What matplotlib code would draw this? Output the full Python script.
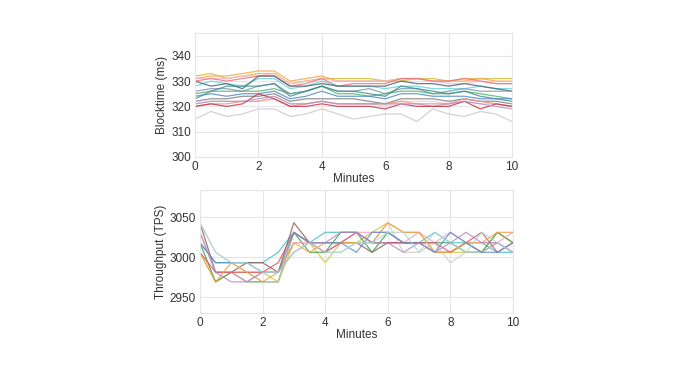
import matplotlib
matplotlib.use("Agg")
import matplotlib.pyplot as plt

plt.rcParams['font.family'] = ['Liberation Sans', 'DejaVu Sans']

minutes = [i * 0.5 for i in range(21)]

# Blocktime series (ms)
bt_colors = ['#d4b830', '#f2a24a', '#f5b6c8', '#e8707a', '#5fd0dc', '#4a5a66',
             '#7a94b0', '#4caf6a', '#3a8a8a', '#4a88c6', '#7a7a7a', '#f4c4d0',
             '#f09080', '#c23040', '#b090c8', '#c8c8c8']
bt_series = [
    [332,333,331,332,333,333,329,330,331,331,331,331,330,330,331,331,330,331,331,331,331],
    [331,332,332,333,334,334,330,331,332,330,330,330,330,331,331,330,330,330,331,330,330],
    [331,331,331,332,332,333,329,330,331,330,330,330,330,331,331,330,329,329,330,329,329],
    [330,331,330,331,332,332,328,329,331,328,329,329,329,331,331,330,330,331,330,329,329],
    [328,330,329,328,331,331,327,328,330,328,328,328,327,328,328,327,327,327,328,327,327],
    [330,328,329,327,332,332,328,328,329,328,328,328,328,330,329,329,328,329,328,327,326],
    [326,327,327,326,328,329,325,326,328,326,326,327,325,327,327,325,326,327,326,326,326],
    [325,326,326,326,326,327,325,326,328,325,325,324,325,326,326,325,325,326,325,324,323],
    [323,326,328,328,328,329,324,326,328,326,326,325,324,328,327,326,325,326,324,323,322],
    [324,325,324,325,325,326,323,324,326,324,324,324,323,325,325,324,324,324,323,323,323],
    [322,323,323,324,324,325,322,323,323,323,323,322,321,323,323,323,322,323,322,322,321],
    [321,322,322,322,322,324,321,321,322,321,321,321,320,322,322,322,321,322,321,321,320],
    [320,321,321,322,322,323,320,321,322,321,321,321,321,322,321,320,321,323,322,321,320],
    [320,321,320,321,325,323,320,320,321,320,320,320,319,321,320,320,320,322,319,321,320],
    [321,322,322,322,323,324,321,321,322,321,321,321,321,321,321,321,321,322,321,320,319],
    [315,318,316,317,319,319,316,317,319,317,315,316,317,317,314,319,317,316,318,317,314],
]

# Throughput series (TPS)
tp_colors = ['#3fbfc8', '#8a5a4a', '#d8c040', '#3a9a4a', '#cccccc', '#f0a0c0',
             '#d85060', '#f0a040', '#5a8ac8', '#b088c8', '#a8d8d0']
tp_series = [
    [3018,2993,2993,2993,2993,3006,3031,3018,3031,3031,3031,3018,3018,3018,3018,3031,3018,3018,3018,3006,3006],
    [3043,2981,2981,2993,2993,2981,3043,3018,3018,3018,3018,3006,3018,3018,3018,3006,3006,3018,3006,3018,3006],
    [3006,2969,2981,2981,2981,2969,3018,3018,2993,3018,3018,3031,3043,3031,3031,3006,3006,3006,3006,3031,3018],
    [3018,2969,2981,2969,2969,2969,3031,3006,3006,3031,3031,3006,3031,3018,3018,3018,3018,3006,3006,3031,3018],
    [3043,3006,2993,2981,2969,2969,3031,3018,3006,3006,3018,3018,3043,3006,3006,3018,2993,3006,3006,3018,3006],
    [3031,2981,2981,2969,2981,2981,3018,3018,3006,3018,3031,3031,3031,3018,3031,3018,3031,3018,3018,3018,3031],
    [3006,2981,2981,2981,2981,2993,3031,3018,3006,3018,3031,3018,3018,3018,3018,3018,3006,3018,3031,3006,3018],
    [3006,2969,2993,2981,2969,2981,3018,3006,3018,3018,3018,3018,3043,3031,3031,3006,3006,3018,3018,3031,3031],
    [3018,2993,2993,2993,2981,2981,3031,3018,3018,3018,3006,3031,3031,3018,3018,3006,3031,3018,3006,3006,3018],
    [3031,2981,2969,2969,2981,2981,3006,3018,3018,3031,3031,3018,3018,3006,3018,3006,3018,3031,3018,3018,3006],
    [3043,3006,2993,2993,2981,2981,3006,3018,3006,3006,3018,3018,3031,3031,3006,3031,3018,3006,3031,3018,3006],
]

x_ticks = [0, 2, 4, 6, 8, 10]
bt_ticks = [300, 310, 320, 330, 340]
tp_ticks = [2950, 3000, 3050]

fig = plt.figure(figsize=(6.8, 3.79), dpi=100)
ax1 = fig.add_axes([0.2868, 0.5858, 0.4661, 0.3271])
ax2 = fig.add_axes([0.2940, 0.1741, 0.4604, 0.3246])

def style(ax):
    ax.set_xlim(0, 10)
    ax.set_xticks(x_ticks)
    ax.grid(True, color='#e6e6e6', linewidth=0.8)
    ax.set_axisbelow(True)
    for s in ax.spines.values():
        s.set_color('#e6e6e6')
        s.set_linewidth(0.8)
    ax.tick_params(length=0, labelsize=8.5, colors='#333333', pad=3)
    ax.set_xlabel('Minutes', fontsize=8.5, color='#333333', labelpad=0)

for vals, c in zip(bt_series, bt_colors):
    ax1.plot(minutes, vals, color=c, linewidth=0.9, alpha=0.8)
ax1.set_ylim(300, 349)
ax1.set_yticks(bt_ticks)
ax1.set_ylabel('Blocktime (ms)', fontsize=8.5, color='#333333', labelpad=2)
style(ax1)

for vals, c in zip(tp_series, tp_colors):
    ax2.plot(minutes, vals, color=c, linewidth=0.9, alpha=0.8)
ax2.set_ylim(2930, 3084)
ax2.set_yticks(tp_ticks)
ax2.set_ylabel('Throughput (TPS)', fontsize=8.5, color='#333333', labelpad=2)
style(ax2)

fig.savefig('out.png', dpi=100, facecolor='white')
